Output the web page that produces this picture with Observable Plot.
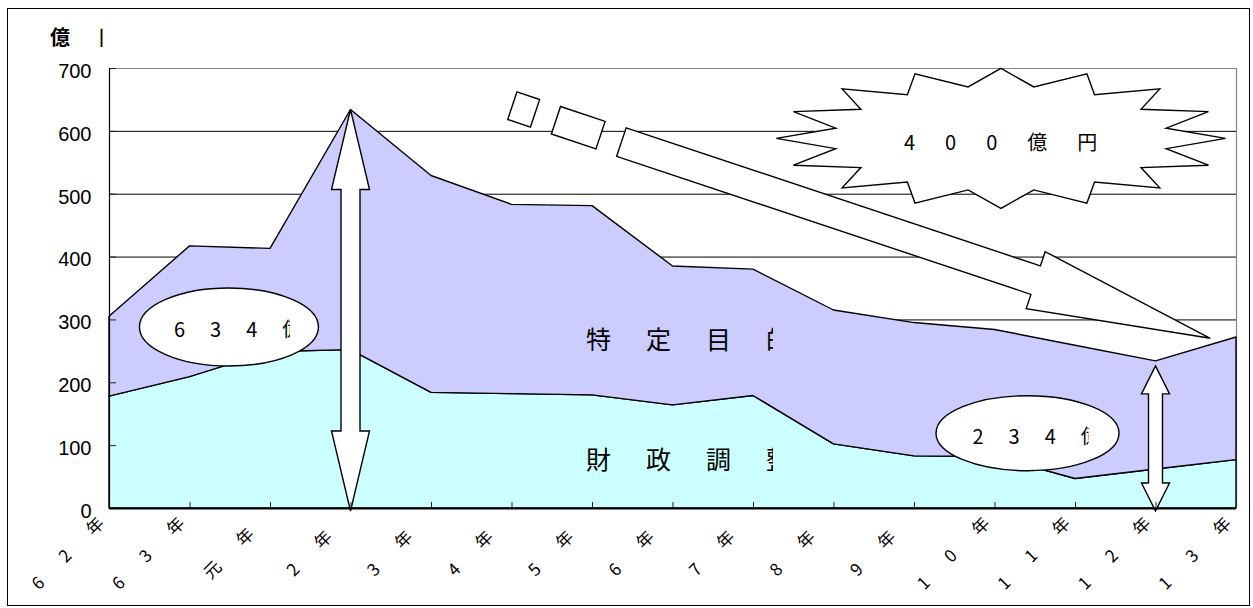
<!DOCTYPE html>
<html lang="ja">
<head>
<meta charset="utf-8">
<script src="https://cdn.jsdelivr.net/npm/d3@7"></script>
<script src="https://cdn.jsdelivr.net/npm/@observablehq/plot@0.6"></script>
<style>
  body { margin: 0; background: #fff; }
  #wrap { position: relative; width: 1253px; height: 608px; overflow: hidden; }
  #frame { position: absolute; left: 7px; top: 8px; width: 1241px; height: 596px; border: 1px solid #000; pointer-events: none; }
  text[aria-label="year-label"] { letter-spacing: 29px; }
</style>
</head>
<body>
<div id="wrap"><div id="chart"></div><div id="frame"></div></div>
<script>
// 年度（昭和62年度〜平成13年度）
const years = ["62年", "63年", "元年", "2年", "3年", "4年", "5年", "6年", "7年", "8年", "9年", "10年", "11年", "12年", "13年"];
// 基金残高（億円）
const adjustFund  = [178, 209, 249, 252, 184, 182, 180, 164, 179, 102, 83, 82, 47, 62, 77];      // 財政調整
const purposeFund = [127, 208, 164, 382, 345, 301, 301, 221, 201, 213, 212, 202, 212, 172, 195]; // 特定目的
const seriesNames = ["財政調整", "特定目的"];
const seriesColors = ["#ccffff", "#ccccff"];
const yTicks = [0, 100, 200, 300, 400, 500, 600, 700];
const gridValues = [100, 200, 300, 400, 500, 600];
const unitLabel = "億円";

const totals = years.map((_, i) => adjustFund[i] + purposeFund[i]);
const peakIdx = years.indexOf("2年");
const lowIdx = years.indexOf("12年");
const decline = totals[peakIdx] - totals[lowIdx];

const rows = years.flatMap((year, i) => [
  {i, year, series: seriesNames[0], value: adjustFund[i]},
  {i, year, series: seriesNames[1], value: purposeFund[i]}
]);

// 注記の配置（x: 年度インデックス, y: 億円）
const calloutAnchors = [[1.49, 288], [11.41, 119]];
const declineArrow = [[5.01, 640], [13.68, 270]];
const burstAnchor = [11.08, 588];
const seriesLabelAnchors = [[6, 79], [6, 270]];

const CJK = "'Noto Sans CJK JP', sans-serif";

function annotations(index, scales) {
  const {x, y} = scales;
  const g = d3.create("svg:g").attr("fill", "none").attr("stroke-linejoin", "miter");
  const defs = g.append("defs");
  let n = 0;
  const clipRect = (x0, y0, x1, y1) => {
    const id = `anno-clip-${++n}`;
    defs.append("clipPath").attr("id", id).append("rect")
      .attr("x", x0).attr("y", y0).attr("width", x1 - x0).attr("height", y1 - y0);
    return `url(#${id})`;
  };
  const poly = (pts) => g.append("polygon")
    .attr("points", pts.map(p => p.join(",")).join(" "))
    .attr("fill", "#fff").attr("stroke", "#000").attr("stroke-width", 1.4);
  const label = (str, px, py, size, spacing, clip, extra = {}) => {
    const t = g.append("text")
      .attr("x", px).attr("y", py)
      .attr("fill", "#000").attr("stroke", "none")
      .attr("text-anchor", "start")
      .attr("font-family", CJK).attr("font-size", size)
      .attr("letter-spacing", spacing)
      .attr("dominant-baseline", "central")
      .text(str);
    if (clip) t.attr("clip-path", clip);
    for (const k in extra) t.attr(k, extra[k]);
    return t;
  };

  // 年度ラベルの上端はラベル枠で切れる
  g.append("rect")
    .attr("x", x(0) - 15).attr("y", y(0) + 1.2)
    .attr("width", x(years.length - 1) - x(0) + 25).attr("height", 7.5)
    .attr("fill", "#fff");

  // 系列名（テキスト枠で右端が切れる）
  seriesNames.forEach((name, k) => {
    const [ax, ay] = seriesLabelAnchors[k];
    const px = x(ax) - 6, py = y(ay);
    label(name, px, py, 25, 35, clipRect(px - 10, py - 30, px + 187, py + 30));
  });

  // 両矢印：0 から各年度の合計まで
  const spans = [
    {i: peakIdx, shaft: 9.5, head: 19, len: 80, topGap: 0},
    {i: lowIdx, shaft: 7, head: 14, len: 28, topGap: 5}
  ];
  for (const s of spans) {
    const cx = x(s.i), top = y(totals[s.i]) + s.topGap, bot = y(0) + 3;
    poly([
      [cx, top], [cx + s.head, top + s.len], [cx + s.shaft, top + s.len],
      [cx + s.shaft, bot - s.len], [cx + s.head, bot - s.len], [cx, bot],
      [cx - s.head, bot - s.len], [cx - s.shaft, bot - s.len],
      [cx - s.shaft, top + s.len], [cx - s.head, top + s.len]
    ]);
  }

  // 吹き出し（楕円）
  const callouts = [peakIdx, lowIdx].map(i => `${totals[i]}億円`);
  callouts.forEach((str, k) => {
    const [ax, ay] = calloutAnchors[k];
    const cx = x(ax), cy = y(ay);
    const rx = k ? 91.5 : 89.5, ry = k ? 37.5 : 39;
    g.append("ellipse").attr("cx", cx).attr("cy", cy).attr("rx", rx).attr("ry", ry)
      .attr("fill", "#fff").attr("stroke", "#000").attr("stroke-width", 1.4);
    label(str, cx - 55, cy + 2, 20, 25, clipRect(cx - 62, cy - 25, cx + 61, cy + 25));
  });

  // 減少を示す斜めの矢印
  const [p0, p1] = declineArrow.map(([a, b]) => [x(a), y(b)]);
  const dx = p1[0] - p0[0], dy = p1[1] - p0[1], L = Math.hypot(dx, dy);
  const u = [dx / L, dy / L], nrm = [-u[1], u[0]];
  const P = (a, c) => [p0[0] + u[0] * a + nrm[0] * c, p0[1] + u[1] * a + nrm[1] * c];
  const block = (a0, a1, h) => poly([P(a0, -h), P(a1, -h), P(a1, h), P(a0, h)]);
  block(0, 24, 14.5);
  block(46, 93, 14.5);
  const hb = L - 184;
  poly([P(115, -15), P(hb, -15), P(hb, -30), P(L, 0), P(hb, 30), P(hb, 15), P(115, 15)]);

  // 爆発形（16 点の星）
  const [bx, by] = [x(burstAnchor[0]), y(burstAnchor[1])];
  const brx = 224.6, bry = 70, inner = 0.75;
  const star = [];
  for (let k = 0; k < 32; ++k) {
    const a = k * Math.PI / 16, r = k % 2 ? inner : 1;
    star.push([bx + brx * r * Math.sin(a), by - bry * r * Math.cos(a)]);
  }
  poly(star);
  label(`${decline}億円`, bx - 97, by + 3, 20, 30, null);

  // 単位（右側の文字は枠で切れる）
  const ux = x(0) - 59, uy = y(700) - 32;
  label(unitLabel, ux, uy, 20, 29, clipRect(ux - 5, uy - 15, ux + 52.5, uy + 15), {"font-weight": "bold"});

  return g.node();
}

const chart = Plot.plot({
  width: 1253,
  height: 608,
  marginLeft: 109,
  marginRight: 17,
  marginTop: 68,
  marginBottom: 100,
  x: {type: "linear", domain: [0, years.length - 1], axis: null},
  y: {domain: [0, 700], axis: null},
  color: {domain: seriesNames, range: seriesColors},
  style: {fontFamily: "'Liberation Sans', Arial, sans-serif", background: "transparent", overflow: "visible"},
  marks: [
    Plot.ruleY(gridValues, {stroke: "#000", strokeWidth: 1}),
    Plot.ruleY([700], {stroke: "#868686", strokeWidth: 1.2}),
    Plot.ruleX([years.length - 1], {stroke: "#868686", strokeWidth: 1.2}),
    Plot.areaY(rows, {x: "i", y: "value", z: "series", fill: "series", stroke: "#000", strokeWidth: 1.4}),
    Plot.text(yTicks, {x: 0, y: d => d, text: d => String(d), textAnchor: "end", dx: -18, dy: 3, fontSize: 20, fill: "#000"}),
    Plot.text(years, {
      x: (d, i) => i, y: 0, text: d => d, rotate: -45, textAnchor: "middle",
      dx: -31, dy: 35, fontSize: 17, fontFamily: CJK, fill: "#000", ariaLabel: () => "year-label"
    }),
    annotations,
    Plot.ruleX(years.map((_, i) => i), {x: d => d, y1: 0, y2: 0, insetTop: -6, stroke: "#222"}),
    Plot.ruleY(yTicks, {y: d => d, x1: 0, x2: 0, insetRight: -7, stroke: "#222"}),
    Plot.ruleY([0], {stroke: "#000", strokeWidth: 1.8}),
    Plot.ruleX([0], {stroke: "#000", strokeWidth: 1.2})
  ]
});

document.getElementById("chart").appendChild(chart);
</script>
</body>
</html>
